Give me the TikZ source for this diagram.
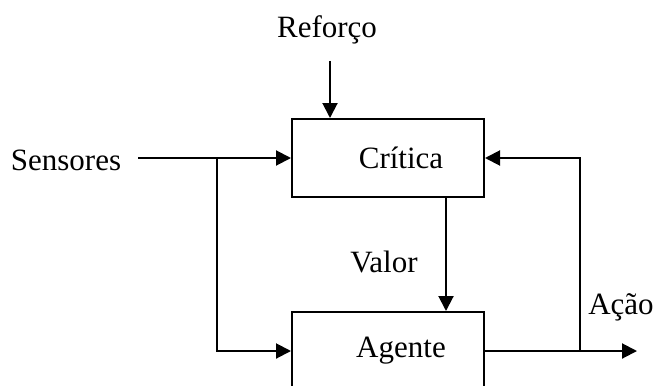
\documentclass[tikz,border=0pt]{standalone}
\usepackage{fontspec}
\setmainfont{Liberation Serif}
\usetikzlibrary{shapes,arrows.meta,positioning}

\begin{document}
\begin{tikzpicture}[x=0.5pt,y=-0.5pt,line width=1pt,
	>={Triangle[length=7.5pt,width=7.5pt]},
	every node/.style={font=\fontsize{15.5}{18}\selectfont},
	bloco/.style={draw,minimum width=96pt,minimum height=39pt,inner sep=0pt}]
	\clip (0,0) rectangle (656,385);
	
	\node[bloco] (critica) at (388,158) {\hspace*{13pt}Crítica};
	\node[bloco] (agente) at (388,351) {\hspace*{13pt}Agente};
	\node (reforco) at (327,30) {Reforço};
	\node (sensores) at (66,160) {Sensores};
	\node (valor) at (384,262) {Valor};
	\node (acao) at (621,307) {Ação};
	
	\coordinate (refseta) at (330,61);
	\coordinate (sensseta) at (138,158);
	\coordinate (ramo1) at (217,158);
	\coordinate (ramo2) at (580,351);
	\coordinate (saida) at (637,351);
	
	\draw [->] (refseta) -- (refseta |- critica.north);
	\draw (sensseta) -- (ramo1);
	\draw [->] (ramo1) -- (critica.west);
	\draw [->] (ramo1) |- (agente.west);
	\draw [->] ([xshift=29pt]critica.south) -- ([xshift=29pt]agente.north);
	\draw [->] (agente.east) -- (saida);
	\draw [->] (ramo2) |- (critica.east);
\end{tikzpicture}
\end{document}
